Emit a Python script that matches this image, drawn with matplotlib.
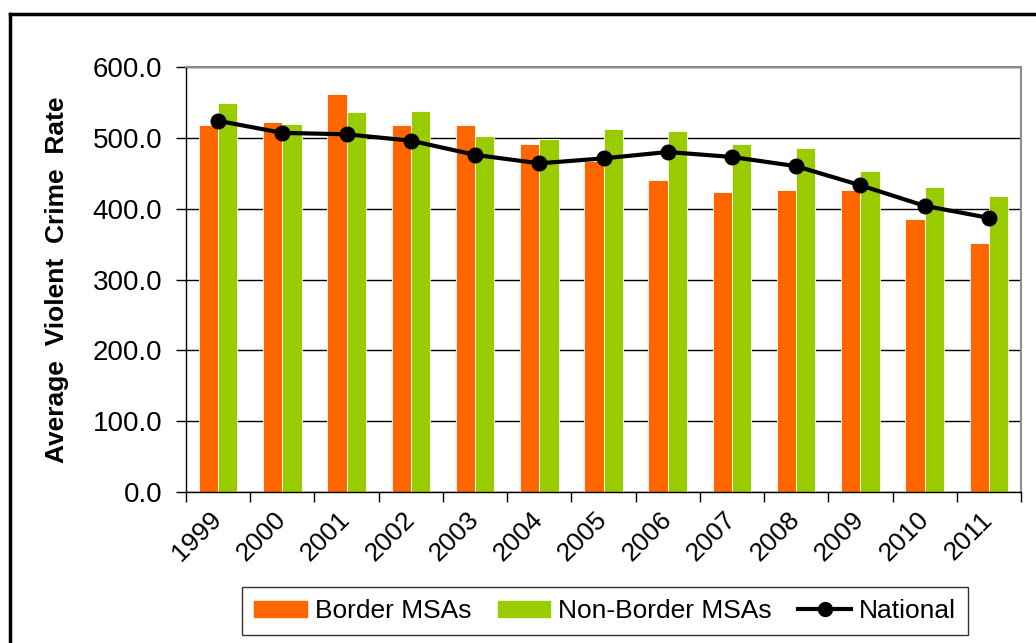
import numpy as np
import matplotlib
matplotlib.use("Agg")
import matplotlib.pyplot as plt
from matplotlib.lines import Line2D

plt.rcParams['font.family'] = ['Liberation Sans', 'DejaVu Sans']

# values
years = ['1999', '2000', '2001', '2002', '2003', '2004', '2005',
         '2006', '2007', '2008', '2009', '2010', '2011']
border = [518, 522, 562, 518, 518, 491, 467, 440, 424, 426, 426, 386, 352]
non_border = [549, 520, 536, 538, 502, 498, 512, 510, 491, 486, 453, 431, 418]
national = [524, 507, 505, 496, 476, 464, 471, 480, 473, 460, 433, 404, 387]

W, H = 1036, 643
fig = plt.figure(figsize=(W / 100, H / 100), dpi=100)

# axes box in pixels: left 186, right 1021, top 67, bottom 492
ax = fig.add_axes([186 / W, 1 - 492 / H, (1021 - 186) / W, (492 - 67) / H])

x = np.arange(len(years))
bw = 0.3
ax.bar(x - bw / 2, border, bw, color='#FF6600', edgecolor='white', linewidth=0.6,
       label='Border MSAs', zorder=2)
ax.bar(x + bw / 2, non_border, bw, color='#99CC00', edgecolor='white', linewidth=0.6,
       label='Non-Border MSAs', zorder=2)
ax.plot(x, national, color='black', lw=3, marker='o', ms=10.5, zorder=3,
        label='National')

ax.set_xlim(-0.5, len(years) - 0.5)
ax.set_ylim(0, 600)
ax.set_yticks(np.arange(0, 601, 100))
ax.set_yticklabels(['%.1f' % v for v in np.arange(0, 601, 100)], fontsize=20)
ax.yaxis.grid(True, color='black', lw=1.0, zorder=0)
ax.set_axisbelow(True)

# category ticks at the boundaries, labels centred under the groups
ax.set_xticks(np.arange(len(years) + 1) - 0.5)
ax.set_xticklabels([])
ax.set_xticks(x, minor=True)
ax.set_xticklabels(years, minor=True, rotation=45, ha='right', va='center',
                   rotation_mode='anchor', fontsize=19)
ax.tick_params(axis='x', which='minor', length=0, pad=17)
ax.tick_params(axis='x', which='major', length=7, width=1, direction='out')
ax.tick_params(axis='y', length=7, width=1, direction='out', pad=10)

for side in ['top', 'right']:
    ax.spines[side].set_color('#8c8c8c')
    ax.spines[side].set_linewidth(1.5)
for side in ['left', 'bottom']:
    ax.spines[side].set_color('black')
    ax.spines[side].set_linewidth(1.0)

ax.set_ylabel('Average  Violent  Crime  Rate', fontsize=19, fontweight='bold')
ax.yaxis.set_label_coords(-117 / (1021 - 186), 0.5)

# legend
handles = [
    plt.Rectangle((0, 0), 1, 1, color='#FF6600'),
    plt.Rectangle((0, 0), 1, 1, color='#99CC00'),
    Line2D([], [], color='black', lw=3, marker='o', ms=10),
]
leg = fig.legend(handles, ['Border MSAs', 'Non-Border MSAs', 'National'],
                 loc='center', bbox_to_anchor=(605 / W, 1 - 611 / H), ncol=3,
                 fontsize=19, frameon=True, fancybox=False, edgecolor='black',
                 handlelength=2.0, handleheight=0.55, handletextpad=0.3,
                 columnspacing=1.0, borderpad=0.45)
leg.get_frame().set_linewidth(1.0)

# outer chart frame (runs off the right and bottom of the picture)
fig.add_artist(Line2D([10 / W, 1.0], [1 - 14 / H, 1 - 14 / H], color='black', lw=2.5))
fig.add_artist(Line2D([10 / W, 10 / W], [1 - 14 / H, 0.0], color='black', lw=2.5))

fig.savefig('out.png', dpi=100)
